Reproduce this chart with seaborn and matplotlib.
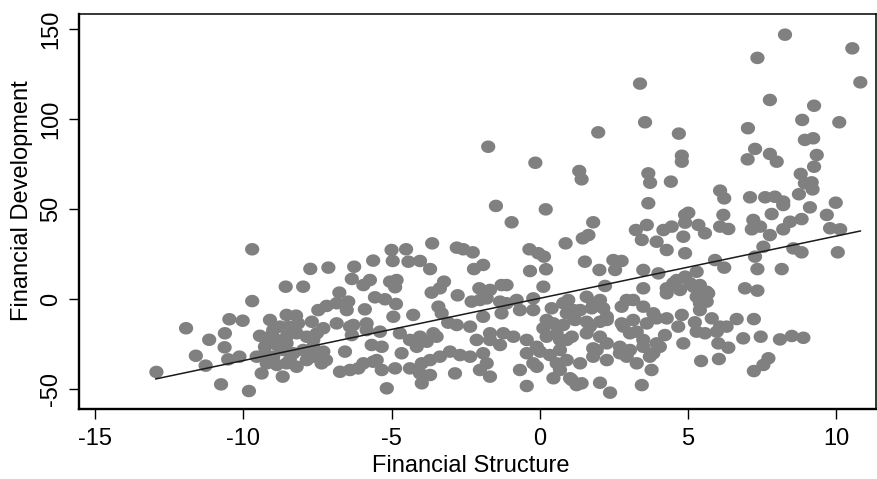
import numpy as np
import pandas as pd
import matplotlib
matplotlib.use("Agg")
import matplotlib.pyplot as plt
from matplotlib.path import Path
import seaborn as sns

# Financial structure (x) and financial development (y) for each observation
fin_structure = [
    -9.70, -7.74, -7.13, -8.57, -7.98, -9.70, -11.93, -10.47, -10.02, -10.62,
    -11.15, -10.63, -11.60, -11.27, -12.93, -10.51, -10.13, -10.75, -9.81, -9.38,
    -8.67, -9.10, -8.54, -8.22, -9.44, -8.99, -8.48, -7.69, -7.47, -7.19,
    -9.21, -8.87, -8.54, -8.20, -7.86, -7.52, -7.30, -9.27, -8.99, -8.65,
    -8.31, -7.98, -7.64, -7.30, -9.21, -8.87, -8.54, -8.20, -7.86, -7.36,
    -9.55, -7.64, -8.54, -7.64,
    -1.48, -0.95, -6.26, -5.62, -5.00, -4.51, -4.96, -4.43, -4.04, -3.70,
    -3.63, -2.80, -2.58, -2.26, -2.22, -1.91, -6.34, -5.95, -5.73, -5.05,
    -4.83, -4.88, -3.23, -3.65, -2.77, -2.04, -1.68, -1.29, -6.76, -6.85,
    -6.46, -6.51, -5.56, -5.22, -4.85, -5.90, -4.94, -4.27, -3.42, -3.31,
    -2.30, -2.02, -1.79, -1.34, -1.29, -1.91, -2.35, -2.80, -3.09, -6.85,
    -6.29, -5.84, -6.34, -5.39, -4.72, -4.38, -4.04, -3.48, -6.57, -5.67,
    -5.33, -4.15, -3.81, -4.66, -6.74, -6.40, -5.95, -5.50, -5.33, -4.88,
    -4.38, -4.04, -3.98, -3.70, -3.98, -5.16, -3.37, -3.03, -2.69, -2.35,
    -1.91, -2.13, -1.68, -1.68, -1.34, -1.79, -2.02, -1.68, -2.86, -3.70,
    -7.21,
    3.66, 0.20, 1.80, 1.64, 1.45, 0.87, -0.35, -0.05, 0.14, -0.33,
    0.21, 1.52, 2.01, 2.48, 2.76, 2.54, 3.49, 3.24, 3.61, 3.44,
    3.94, 4.17, 4.45, 4.28, 4.90, 4.84, 4.90, 4.90, 4.50, 4.28,
    4.73, 3.49, -1.12, 0.12, -0.22, -0.78, -1.12, -0.67, -0.22, 0.40,
    0.96, 1.58, 2.03, 2.20, 0.91, 1.36, 1.75, 0.46, 0.12, 0.79,
    1.19, 1.58, 2.03, 2.26, 2.76, 2.93, 3.15, 3.49, 3.83, 4.28,
    4.79, 4.67, 2.76, 3.15, 3.61, 3.04, 4.22, 4.84, -1.23, -0.89,
    -0.44, -0.10, 0.23, 0.57, 0.91, 1.08, 1.58, 2.03, 2.26, 2.70,
    3.04, 3.49, 3.94, 3.83, -0.44, 0.01, 0.34, 0.68, 1.80, 1.36,
    0.91, 0.57, -0.22, -0.67, -0.10, 0.68, 1.80, 2.26, 2.93, 3.27,
    3.77, 0.46, -0.44, 1.08, 1.41, 2.03, 2.37, 3.44, 1.24,
    5.01, 4.90, 6.19, 7.20, 7.82, 8.21, 9.11, 9.98, 9.68, 8.44,
    8.83, 8.21, 7.76, 7.15, 7.43, 5.35, 5.57, 6.08, 6.36, 9.79,
    10.13, 5.91, 6.22, 7.26, 7.54, 7.34, 8.16, 8.55, 8.83, 10.05,
    5.29, 5.07, 5.40, 5.29, 5.68, 5.63, 5.40, 6.92, 7.34, 5.80,
    5.23, 6.08, 6.64, 7.22, 5.57, 5.97, 6.02, 6.36, 6.86, 7.45,
    8.10, 8.50, 8.89, 5.44, 6.04, 7.71, 7.54, 7.22,
    3.38, 3.55, 1.97, 4.69, 4.79, 4.79, -0.15, 1.33, 1.41, 3.66,
    3.72, 4.42, -1.74,
    8.27, 10.54, 7.34, 10.81, 7.76, 9.25, 7.02, 8.85, 10.10, 7.26,
    7.76, 7.99, 7.01, 8.94, 9.22, 9.34, 9.25, 8.80, 8.94, 9.20,
    8.74, 9.17, 6.08, 6.22, 7.09, 7.60, 7.93, 8.21,
    -9.04, -9.27, -8.87, -8.15, -6.40, -3.37, -5.84, -3.59, -6.12, -5.62,
    -8.43, -7.41, -8.76,
    4.62, 4.28, 5.18, 5.63, 5.40, 4.00, 3.94, 5.29, 6.30, 2.82,
    3.27, 3.49, 4.05, 1.92, 2.70, 3.71, 1.02, 0.23, 1.13, 1.69,
    2.26, 0.79, 1.13, 1.80, 2.14, 0.68,
]

fin_development = [
    27.7, 16.8, 17.5, 6.9, 6.9, -1.1, -16.2, -11.2, -12.0, -19.0,
    -22.6, -26.8, -31.5, -37.0, -40.5, -33.5, -32.0, -47.4, -51.1, -41.3,
    -43.1, -11.6, -8.8, -9.2, -20.4, -17.2, -15.3, -12.6, -6.1, -3.8,
    -24.6, -22.7, -20.9, -19.0, -20.9, -19.0, -16.2, -30.1, -32.0, -28.3,
    -30.1, -28.3, -26.5, -29.2, -35.7, -36.6, -35.7, -37.6, -33.9, -35.7,
    -32.0, -32.0, -24.6, -22.7,
    51.8, 42.7, 18.0, 21.4, 27.3, 27.7, 21.2, 20.8, 21.2, 16.7,
    31.0, 28.6, 27.7, 26.0, 16.7, 19.0, 11.2, 7.8, 10.6, 9.7,
    10.6, 6.6, 9.7, 3.6, 2.1, 6.0, 5.1, 7.8, 3.6, -2.3,
    -1.4, -6.1, 1.0, -0.1, -2.7, -5.7, -9.8, -8.8, -4.2, -7.9,
    -1.4, -0.5, 0.4, -1.4, -7.9, -9.8, -15.3, -14.4, -13.1, -13.5,
    -14.4, -13.5, -20.0, -18.1, -19.0, -22.7, -20.9, -20.9, -29.2, -25.5,
    -26.5, -26.5, -23.7, -30.1, -40.4, -39.4, -35.7, -33.9, -39.4, -38.5,
    -38.5, -41.3, -35.7, -33.9, -46.8, -49.6, -32.0, -29.2, -31.1, -32.0,
    -30.1, -22.7, -19.0, -22.7, -25.5, -35.7, -39.4, -43.1, -41.3, -42.2,
    -33.9,
    53.3, 49.9, 42.7, 35.6, 33.8, 31.0, 27.7, 25.5, 23.6, 15.6,
    16.6, 20.8, 16.2, 21.7, 21.2, 16.2, 16.2, 38.4, 41.2, 32.9,
    31.9, 38.4, 40.3, 27.3, 46.8, 34.7, 25.5, 12.5, 8.8, 6.0,
    5.1, 6.0, 7.8, 6.9, 0.4, -0.5, -2.3, -6.1, -6.1, -5.1,
    -0.5, 1.3, -0.5, 7.3, -7.9, -6.1, -5.1, -13.5, -16.2, -14.4,
    -11.6, -12.6, -12.6, -9.8, -4.2, -0.5, -0.5, -4.2, -7.9, -10.7,
    -8.8, -15.3, -13.5, -11.6, -13.5, -19.0, -20.0, -24.6, -19.0, -20.9,
    -22.7, -26.5, -20.9, -19.0, -22.7, -20.9, -19.0, -20.9, -24.6, -26.5,
    -28.3, -26.5, -24.6, -30.1, -30.1, -29.2, -31.1, -28.3, -27.4, -35.7,
    -33.9, -35.7, -35.7, -39.4, -37.6, -39.4, -32.0, -33.9, -32.0, -35.7,
    -39.4, -44.0, -48.3, -45.0, -46.8, -46.5, -52.0, -47.8, -47.8,
    48.0, 42.5, 46.8, 44.0, 47.3, 52.3, 51.0, 53.6, 46.8, 43.0,
    44.5, 38.8, 35.6, 38.8, 40.3, 41.2, 36.6, 40.3, 39.0, 39.4,
    38.8, 21.7, 17.5, 23.6, 29.1, 16.7, 16.7, 28.2, 26.0, 26.0,
    15.2, 8.8, 7.8, 1.3, 3.2, -1.4, -6.1, 6.0, 4.7, -10.7,
    -12.9, -15.3, -11.1, -11.1, -19.0, -18.1, -24.6, -27.0, -21.8, -20.9,
    -22.4, -20.5, -21.5, -34.4, -33.3, -32.9, -36.6, -40.0,
    119.8, 98.3, 92.7, 92.0, 79.7, 76.4, 75.8, 71.2, 66.6, 69.9,
    64.7, 65.3, 84.7,
    147.0, 139.4, 134.1, 120.5, 110.7, 107.5, 95.0, 99.6, 98.3, 83.5,
    80.7, 76.4, 77.7, 88.5, 89.4, 80.1, 73.6, 69.6, 64.4, 61.0,
    58.3, 64.9, 60.3, 56.0, 56.6, 56.6, 56.9, 54.2,
    -20.0, -26.5, -25.5, -13.5, -15.3, 6.0, -17.2, -19.0, -38.5, -34.8,
    -33.9, -30.1, -15.3,
    10.6, 3.2, 6.9, 4.1, -2.3, 14.3, -10.7, -18.1, -15.3, -15.3,
    -18.1, -22.7, -26.5, -28.3, -30.1, -32.0, -44.0, -11.6, -9.8, -15.3,
    -11.6, -2.3, -6.1, -2.3, -5.1, -22.7,
]

# Linear fit drawn across the observed range of financial structure
fit_x = [-12.96, 10.82]
fit_y = [-44.4, 37.9]

x_ticks = [-15, -10, -5, 0, 5, 10]
y_ticks = [-50, 0, 50, 100, 150]

sns.set_theme(style="white")
plt.rcParams["font.family"] = ["Liberation Sans", "DejaVu Sans"]

df = pd.DataFrame({"structure": fin_structure, "development": fin_development})
fit = pd.DataFrame({"structure": fit_x, "development": fit_y})

fig = plt.figure(figsize=(8.77, 4.79), dpi=100)
ax = fig.add_axes([0.0901, 0.1461, 0.9088, 0.8247])

# slightly wide oval marker
t = np.linspace(0, 2 * np.pi, 64)
oval = Path(np.column_stack([np.cos(t), 0.88 * np.sin(t)]), closed=True)

sns.scatterplot(data=df, x="structure", y="development", ax=ax,
                marker=oval, s=105, color="#808080", edgecolor="none",
                linewidth=0, alpha=1)
sns.lineplot(data=fit, x="structure", y="development", ax=ax,
             color="#1a1a1a", linewidth=1.1)

ax.set_xlim(-15.54, 11.34)
ax.set_ylim(-61.1, 158.5)
ax.set_xticks(x_ticks)
ax.set_yticks(y_ticks)
ax.set_xticklabels([str(v) for v in x_ticks])
ax.set_yticklabels([str(v) for v in y_ticks], rotation=90, va="center")

ax.tick_params(axis="both", direction="out", length=7, width=1.0,
               color="black", labelsize=17, labelcolor="black")
ax.tick_params(axis="x", pad=7, bottom=True)
ax.tick_params(axis="y", pad=5, left=True)

for side in ["left", "bottom"]:
    ax.spines[side].set_linewidth(1.7)
    ax.spines[side].set_color("black")
for side in ["top", "right"]:
    ax.spines[side].set_linewidth(1.1)
    ax.spines[side].set_color("black")
    ax.spines[side].set_visible(True)

ax.set_xlabel("Financial Structure", fontsize=17, color="black")
ax.set_ylabel("Financial Development", fontsize=17, color="black")
ax.xaxis.set_label_coords(0.492, -0.144, transform=ax.transAxes)
ax.yaxis.set_label_coords(-0.0715, 0.527, transform=ax.transAxes)
ax.xaxis.label.set_va("center")
ax.yaxis.label.set_va("center")
ax.grid(False)

fig.savefig("out.png", dpi=100)
